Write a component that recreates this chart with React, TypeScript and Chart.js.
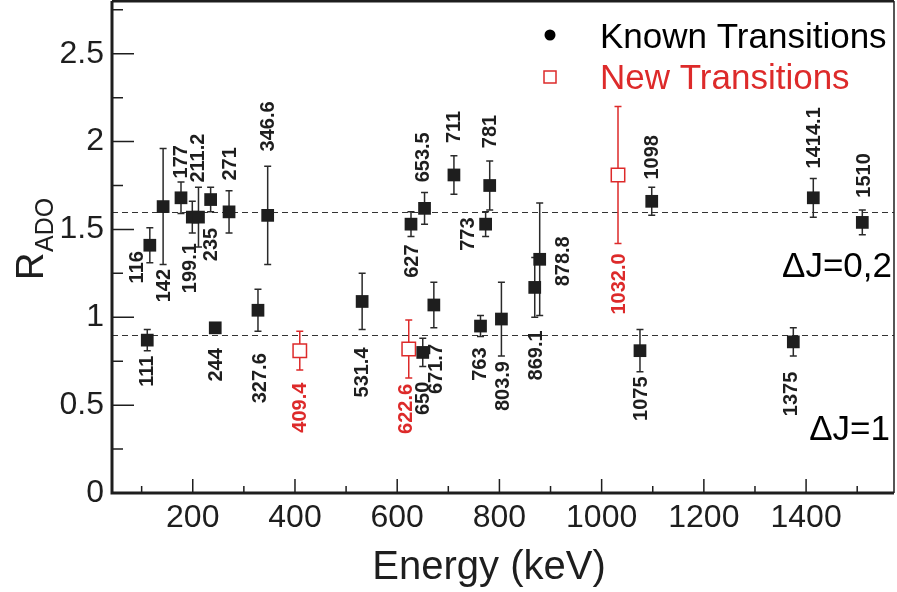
import React, { useEffect, useRef } from "react";
import { Chart, registerables } from "chart.js";

Chart.register(...registerables);

// ---- data ----
const knownEnergy = [111, 116, 142, 177, 199.1, 211.2, 235, 244, 271, 327.6, 346.6, 531.4, 627, 650, 653.5, 671.7, 711, 763, 773, 781, 803.9, 869.1, 878.8, 1075, 1098, 1375, 1414.1, 1510];
const knownR = [0.87, 1.41, 1.63, 1.68, 1.57, 1.57, 1.67, 0.94, 1.60, 1.04, 1.58, 1.09, 1.53, 0.80, 1.62, 1.07, 1.81, 0.95, 1.53, 1.75, 0.99, 1.17, 1.33, 0.81, 1.66, 0.86, 1.68, 1.54];
const knownErr = [0.06, 0.10, 0.33, 0.09, 0.09, 0.17, 0.07, 0.02, 0.12, 0.12, 0.28, 0.16, 0.07, 0.08, 0.09, 0.13, 0.11, 0.06, 0.07, 0.14, 0.21, 0.17, 0.32, 0.12, 0.08, 0.08, 0.11, 0.07];
const knownLabels = ["111", "116", "142", "177", "199.1", "211.2", "235", "244", "271", "327.6", "346.6", "531.4", "627", "650", "653.5", "671.7", "711", "763", "773", "781", "803.9", "869.1", "878.8", "1075", "1098", "1375", "1414.1", "1510"];

const newEnergy = [409.4, 622.6, 1032.0];
const newR = [0.81, 0.82, 1.81];
const newErr = [0.11, 0.165, 0.39];
const newLabels = ["409.4", "622.6", "1032.0"];

const referenceLines = [1.6, 0.9];
const xTickValues = [200, 400, 600, 800, 1000, 1200, 1400];
const yTickValues = [0, 0.5, 1, 1.5, 2, 2.5];
const xMinorValues = [100, 300, 500, 700, 900, 1100, 1300, 1500];
const yMinorValues = [0.25, 0.75, 1.25, 1.75, 2.25, 2.75];

// ---- label placement (pixel offsets of label centre from the marker) ----
const knownLabelOffset = [
  [-1, 31], [-13, 22], [0, 79], [-1, -36], [-3, 51], [-1, -59], [0, 45], [0, 37], [0, -48], [2, 68],
  [0, -89], [-1, 71], [0, 37], [0, 46], [-2, -51], [2, 64], [0, -48], [-1, 38], [-18, 10], [0, -54],
  [1, 67], [1, 68], [23, 2], [1, 48], [0, -44], [-3, 52], [0, -60], [1, -47],
];
const newLabelOffset = [[0, 57], [-3, 60], [0, 109]];

const RED = "#dd2a2a";
const INK = "#1e1e1e";
const FONT = "'Liberation Sans', Arial, Helvetica, sans-serif";

const overlay = {
  id: "overlay",
  beforeDatasetsDraw(chart: any) {
    const { ctx, chartArea: a, scales } = chart;
    const xs = scales.x, ys = scales.y;
    ctx.save();
    ctx.strokeStyle = "#333";
    ctx.lineWidth = 1;
    ctx.setLineDash([6, 4]);
    referenceLines.forEach((v) => {
      const y = Math.round(ys.getPixelForValue(v)) + 0.5;
      ctx.beginPath();
      ctx.moveTo(a.left, y);
      ctx.lineTo(a.right, y);
      ctx.stroke();
    });
    ctx.setLineDash([]);
    const drawErr = (E: number[], R: number[], Er: number[], color: string) => {
      ctx.strokeStyle = color;
      ctx.lineWidth = 1.5;
      E.forEach((e, i) => {
        const x = xs.getPixelForValue(e);
        const y1 = ys.getPixelForValue(R[i] + Er[i]);
        const y2 = ys.getPixelForValue(R[i] - Er[i]);
        ctx.beginPath();
        ctx.moveTo(x, y1);
        ctx.lineTo(x, y2);
        ctx.moveTo(x - 3.5, y1);
        ctx.lineTo(x + 3.5, y1);
        ctx.moveTo(x - 3.5, y2);
        ctx.lineTo(x + 3.5, y2);
        ctx.stroke();
      });
    };
    drawErr(knownEnergy, knownR, knownErr, "#2a2a2a");
    drawErr(newEnergy, newR, newErr, RED);
    ctx.restore();
  },
  afterDatasetsDraw(chart: any) {
    const { ctx, chartArea: a, scales } = chart;
    const xs = scales.x, ys = scales.y;
    ctx.save();
    // frame
    ctx.strokeStyle = INK;
    ctx.lineWidth = 3;
    ctx.beginPath();
    ctx.moveTo(a.left, a.top);
    ctx.lineTo(a.left, a.bottom);
    ctx.lineTo(a.right, a.bottom);
    ctx.moveTo(a.left, a.top);
    ctx.lineTo(a.right, a.top);
    ctx.stroke();
    ctx.lineWidth = 1.5;
    ctx.beginPath();
    ctx.moveTo(a.right, a.top);
    ctx.lineTo(a.right, a.bottom);
    ctx.stroke();
    // inward ticks
    ctx.lineWidth = 1.5;
    ctx.beginPath();
    yTickValues.forEach((v) => {
      const y = ys.getPixelForValue(v);
      ctx.moveTo(a.left, y);
      ctx.lineTo(a.left + 22, y);
    });
    yMinorValues.forEach((v) => {
      const y = ys.getPixelForValue(v);
      ctx.moveTo(a.left, y);
      ctx.lineTo(a.left + 11, y);
    });
    xTickValues.forEach((v) => {
      const x = xs.getPixelForValue(v);
      ctx.moveTo(x, a.bottom);
      ctx.lineTo(x, a.bottom - 14);
    });
    xMinorValues.forEach((v) => {
      const x = xs.getPixelForValue(v);
      ctx.moveTo(x, a.bottom);
      ctx.lineTo(x, a.bottom - 7);
    });
    ctx.stroke();

    // point labels
    const drawLabels = (E: number[], R: number[], L: string[], off: number[][], color: string) => {
      ctx.fillStyle = color;
      ctx.font = `bold 20px ${FONT}`;
      ctx.textAlign = "center";
      ctx.textBaseline = "middle";
      E.forEach((e, i) => {
        const x = xs.getPixelForValue(e) + off[i][0];
        const y = ys.getPixelForValue(R[i]) + off[i][1];
        ctx.save();
        ctx.translate(x, y);
        ctx.rotate(-Math.PI / 2);
        ctx.fillText(L[i], 0, 1);
        ctx.restore();
      });
    };
    drawLabels(knownEnergy, knownR, knownLabels, knownLabelOffset, INK);
    drawLabels(newEnergy, newR, newLabels, newLabelOffset, RED);

    // legend
    ctx.textAlign = "left";
    ctx.textBaseline = "alphabetic";
    ctx.font = `35px ${FONT}`;
    ctx.fillStyle = "#000";
    ctx.beginPath();
    ctx.arc(550, 35, 5.5, 0, Math.PI * 2);
    ctx.fill();
    ctx.fillText("Known Transitions", 600, 48);
    ctx.strokeStyle = RED;
    ctx.lineWidth = 1.5;
    ctx.strokeRect(544, 71, 12, 12);
    ctx.fillStyle = RED;
    ctx.fillText("New Transitions", 600, 89);

    // annotations
    ctx.fillStyle = "#000";
    ctx.textAlign = "right";
    ctx.font = `35px ${FONT}`;
    ctx.fillText("\u0394J=0,2", 892, 277);
    ctx.fillText("\u0394J=1", 890, 440);

    // axis titles
    ctx.fillStyle = INK;
    ctx.textAlign = "center";
    ctx.font = `40px ${FONT}`;
    ctx.fillText("Energy (keV)", 489, 579);

    ctx.save();
    ctx.translate(43, 280);
    ctx.rotate(-Math.PI / 2);
    ctx.textAlign = "left";
    ctx.font = `38px ${FONT}`;
    ctx.fillText("R", 0, 0);
    ctx.font = `25px ${FONT}`;
    ctx.fillText("ADO", 28, 10);
    ctx.restore();

    ctx.restore();
  },
};

const zeroPadding = (s: any) => {
  s.paddingTop = 0;
  s.paddingBottom = 0;
  s.paddingLeft = 0;
  s.paddingRight = 0;
};

export default function App() {
  const ref = useRef<HTMLCanvasElement | null>(null);
  useEffect(() => {
    if (!ref.current) return;
    const chart = new Chart(ref.current, {
      type: "scatter",
      data: {
        datasets: [
          {
            label: "Known Transitions",
            data: knownEnergy.map((e, i) => ({ x: e, y: knownR[i] })),
            pointStyle: "rect",
            radius: 9,
            backgroundColor: "#1e1e1e",
            borderColor: "#1e1e1e",
            borderWidth: 0,
          },
          {
            label: "New Transitions",
            data: newEnergy.map((e, i) => ({ x: e, y: newR[i] })),
            pointStyle: "rect",
            radius: 9.5,
            backgroundColor: "#ffffff",
            borderColor: RED,
            borderWidth: 1.5,
          },
        ],
      },
      options: {
        animation: false,
        responsive: false,
        layout: { autoPadding: false, padding: { top: 1, right: 3, left: 0, bottom: 0 } },
        plugins: { legend: { display: false }, tooltip: { enabled: false } },
        scales: {
          x: {
            type: "linear",
            min: 42,
            max: 1572,
            grid: { display: false, drawTicks: false },
            border: { display: false },
            afterBuildTicks: (s: any) => {
              s.ticks = xTickValues.map((v) => ({ value: v }));
            },
            afterFit: (s: any) => {
              s.height = 99;
              zeroPadding(s);
            },
            ticks: {
              padding: 6,
              color: INK,
              font: { family: FONT, size: 32 },
              maxRotation: 0,
              autoSkip: false,
              callback: (v: any) => String(v),
            },
          },
          y: {
            type: "linear",
            min: 0,
            max: 2.8,
            grid: { display: false, drawTicks: false },
            border: { display: false },
            afterBuildTicks: (s: any) => {
              s.ticks = yTickValues.map((v) => ({ value: v }));
            },
            afterFit: (s: any) => {
              s.width = 112;
              zeroPadding(s);
            },
            ticks: {
              padding: 8,
              color: INK,
              font: { family: FONT, size: 32 },
              autoSkip: false,
              callback: (v: any) => String(v),
            },
          },
        },
      },
      plugins: [overlay],
    });
    return () => chart.destroy();
  }, []);
  return (
    <div style={{ position: "fixed", left: 0, top: 0, width: 897, height: 592, background: "#fff" }}>
      <canvas ref={ref} width={897} height={592} />
    </div>
  );
}
